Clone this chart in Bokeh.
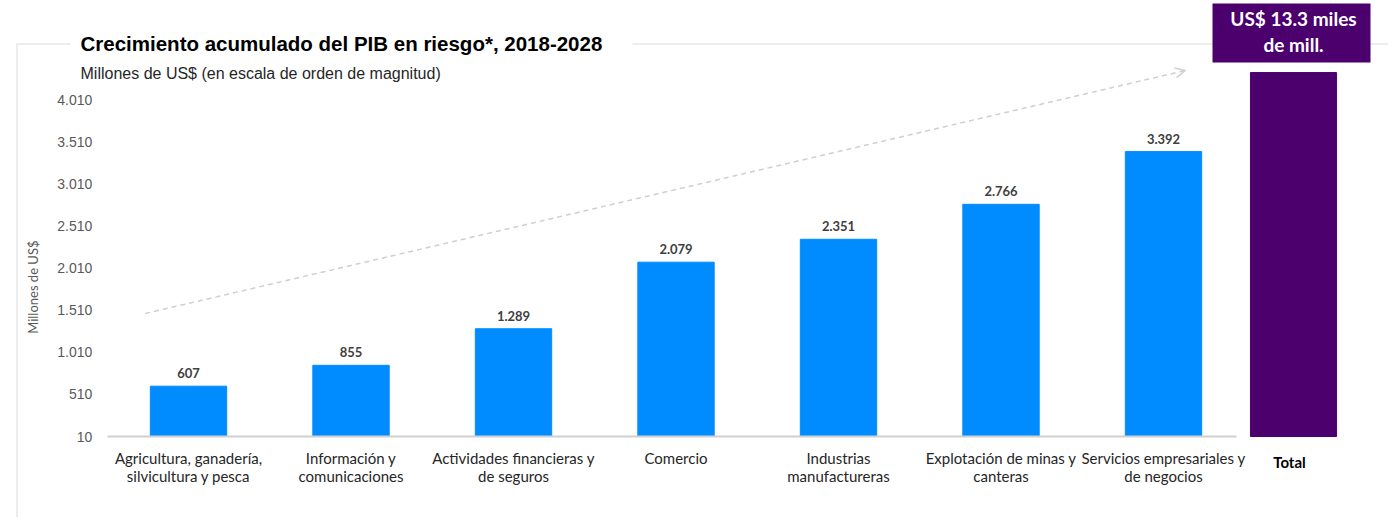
import numpy as np
from bokeh.plotting import figure
from bokeh.models import (ColumnDataSource, Range1d, FixedTicker, LabelSet, Label,
                          BoxAnnotation, Arrow, OpenHead, LinearAxis)
from bokeh.core.properties import value
from bokeh.embed import file_html
from bokeh.resources import INLINE

# ---- data ----
categories = [
    "Agricultura, ganadería,\nsilvicultura y pesca",
    "Información y\ncomunicaciones",
    "Actividades financieras y\nde seguros",
    "Comercio",
    "Industrias\nmanufactureras",
    "Explotación de minas y\ncanteras",
    "Servicios empresariales y\nde negocios",
]
values = [607, 855, 1289, 2079, 2351, 2766, 3392]
total_name = "Total"
total_value = 13300
total_text = "US$ 13.3 miles\nde mill."
y_ticks = [10, 510, 1010, 1510, 2010, 2510, 3010, 3510, 4010]
y_axis_max = 4330          # top of the drawn value scale (bars are cut here)
title_text = "Crecimiento acumulado del PIB en riesgo*, 2018-2028"
subtitle_text = "Millones de US$ (en escala de orden de magnitud)"
ylabel_text = "Millones de  US$"

def es_fmt(v):
    return f"{v:,}".replace(",", ".")

# ---- layout ----
W, H = 1388, 517
BLUE = "#008CFF"
PURPLE = "#4B006E"
GRAY = "#d0d0d0"
FRAME_GRAY = "#c4c4c4"
UNIT_PX = 162.5           # px per category slot
Y_PX = 337.0 / 4000.0     # px per value unit
X0_PX, Y0_PX = 188, 436   # canvas position of first category / base value

xs = np.arange(len(categories))
x_total = len(categories) - 1 + 0.8

src = ColumnDataSource(dict(x=xs, top=values, lbl=[es_fmt(v) for v in values]))

x_range = Range1d(-X0_PX / UNIT_PX, (W - X0_PX) / UNIT_PX)
y_range = Range1d(y_ticks[0] - (H - Y0_PX) / Y_PX, y_ticks[0] + Y0_PX / Y_PX)

p = figure(width=W, height=H, output_backend="svg", toolbar_location=None,
           x_range=x_range, y_range=y_range, x_axis_type=None, y_axis_type=None,
           min_border=0, min_border_left=0, min_border_right=0,
           min_border_top=0, min_border_bottom=0)
p.outline_line_color = None
p.grid.visible = False
p.background_fill_color = "white"
p.border_fill_color = "white"

# outer gray frame (open on right/bottom, cut off by canvas)
p.add_layout(BoxAnnotation(left=16.5, right=W + 20, top=43.5, bottom=H + 20,
                           left_units="canvas", right_units="canvas",
                           top_units="canvas", bottom_units="canvas",
                           fill_alpha=0, line_color=FRAME_GRAY, line_width=2, level="underlay"))
# gap in the frame line behind the title
p.add_layout(BoxAnnotation(left=70, right=632, top=33, bottom=54,
                           left_units="canvas", right_units="canvas",
                           top_units="canvas", bottom_units="canvas",
                           fill_color="white", fill_alpha=1, line_alpha=0, level="underlay"))

# axes fixed inside the frame
yax = LinearAxis(fixed_location=-0.5, ticker=FixedTicker(ticks=y_ticks),
                 major_label_overrides={t: es_fmt(t) for t in y_ticks})
yax.axis_line_color = None
yax.major_tick_line_color = None
yax.minor_tick_line_color = None
yax.major_label_standoff = 9
yax.major_label_text_font = "Liberation Sans"
yax.major_label_text_font_size = "14px"
yax.major_label_text_color = "#595959"
p.add_layout(yax, "left")

xax = LinearAxis(fixed_location=y_ticks[0], ticker=FixedTicker(ticks=list(xs)),
                 major_label_overrides={int(i): c for i, c in zip(xs, categories)},
                 bounds=(-0.5, 6.45))
xax.axis_line_color = GRAY
xax.axis_line_width = 2
xax.major_tick_line_color = None
xax.minor_tick_line_color = None
xax.major_label_standoff = 6
xax.major_label_text_font = "Lato"
xax.major_label_text_font_size = "15px"
xax.major_label_text_line_height = 1.0
xax.major_label_text_color = "#262626"
p.add_layout(xax, "below")

# bars
p.vbar(x="x", top="top", bottom=y_ticks[0], width=0.47, color=BLUE, source=src)
p.vbar(x=[x_total], top=[min(total_value, y_axis_max)], bottom=y_ticks[0], width=0.53,
       color=PURPLE)

# bar value labels
p.add_layout(LabelSet(x="x", y="top", text="lbl", source=src, text_align="center",
                      text_baseline="bottom", y_offset=8, text_font=value("Lato"),
                      text_font_style="bold", text_font_size="13px", text_color="#404040"))

# trend arrow
p.add_layout(Arrow(x_start=-0.266, y_start=1470, x_end=6.134, y_end=4354,
                   line_color="#cfcfcf", line_width=1.5, line_dash="5 4",
                   end=OpenHead(size=10, line_color="#cfcfcf", line_width=1.5)))

# Total category label (bold)
p.add_layout(Label(x=x_total, y=H - 461, y_units="screen", text=total_name, x_offset=-4,
                   text_align="center", text_baseline="middle", text_font="Lato",
                   text_font_style="bold", text_font_size="15px", text_color="#000000"))

# title & subtitle
p.add_layout(Label(x=80, y=H - 43, x_units="screen", y_units="screen",
                   text=title_text, text_align="left", text_baseline="middle",
                   text_font="Liberation Sans", text_font_style="bold", text_font_size="20.5px",
                   text_color="#000000"))
p.add_layout(Label(x=80, y=H - 73, x_units="screen", y_units="screen",
                   text=subtitle_text, text_align="left", text_baseline="middle",
                   text_font="Liberation Sans", text_font_size="16px", text_color="#262626"))

# y axis label
p.add_layout(Label(x=32, y=H - 285, x_units="screen", y_units="screen",
                   text=ylabel_text, angle=np.pi / 2, text_align="center", text_baseline="middle",
                   text_font="Lato", text_font_size="13px", text_color="#595959"))

# total value box
p.add_layout(BoxAnnotation(left=1212, right=1370, top=3, bottom=62,
                           left_units="canvas", right_units="canvas",
                           top_units="canvas", bottom_units="canvas",
                           fill_color=PURPLE, fill_alpha=1, line_alpha=0))
p.add_layout(Label(x=x_total, y=H - 31, y_units="screen", text=total_text,
                   text_align="center", text_baseline="middle", text_font="Lato",
                   text_font_style="bold", text_font_size="19px", text_color="white",
                   text_line_height=1.15))

open("out.html", "w").write(file_html(p, INLINE))
